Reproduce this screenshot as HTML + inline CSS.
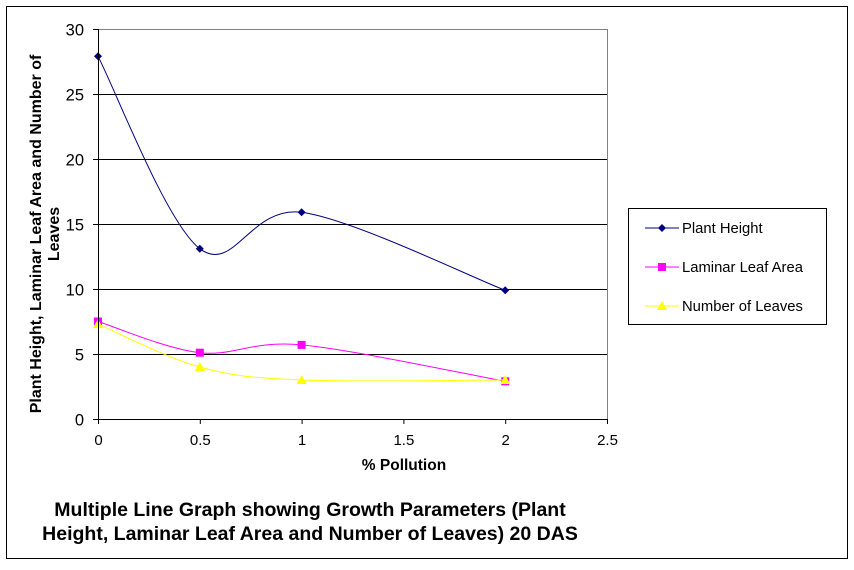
<!DOCTYPE html>
<html><head><meta charset="utf-8"><style>
body{margin:0;background:#fff;}
svg text{font-family:"Liberation Sans",Arial,sans-serif;}
</style></head><body>
<svg id="chart" width="854" height="565">
<rect x="6.5" y="6.5" width="841" height="552" fill="#fff" stroke="#000"/>
<g id="grid"></g><g id="series"></g><g id="axes"></g>
<text transform="translate(41,234) rotate(-90)" text-anchor="middle" font-size="16" font-weight="bold"><tspan x="0" y="0">Plant Height, Laminar Leaf Area and Number of</tspan><tspan x="0" y="18">Leaves</tspan></text>
<text x="404" y="470" text-anchor="middle" font-size="15.5" font-weight="bold">% Pollution</text>
<text x="310" y="516" text-anchor="middle" font-size="19.5" font-weight="bold"><tspan x="310" y="516">Multiple Line Graph showing Growth Parameters (Plant</tspan><tspan x="310" y="540">Height, Laminar Leaf Area and Number of Leaves) 20 DAS</tspan></text>
<g>
<rect x="628.5" y="208.5" width="198" height="116" fill="#fff" stroke="#000"/>
<line x1="645" y1="228" x2="679" y2="228" stroke="#000080"/><path d="M662 224L666 228L662 232L658 228Z" fill="#000080"/>
<text x="682" y="233" font-size="14.8">Plant Height</text>
<line x1="645" y1="267" x2="679" y2="267" stroke="#ff00ff"/><rect x="658" y="263" width="8" height="8" fill="#ff00ff"/>
<text x="682" y="272" font-size="14.8">Laminar Leaf Area</text>
<line x1="645" y1="306" x2="679" y2="306" stroke="#ffff00"/><path d="M662 301L667 310L657 310Z" fill="#ffff00"/>
<text x="682" y="311" font-size="14.8">Number of Leaves</text>
</g>
</svg>
<script>
const xValues=[0,0.5,1,2];
const plantHeight=[27.9,13.1,15.9,9.9];
const laminarLeafArea=[7.5,5.1,5.7,2.9];
const numberOfLeaves=[7.3,4.0,3.0,3.0];
const yTicks=[0,5,10,15,20,25,30];
const xTicks=[0,0.5,1,1.5,2,2.5];
const NS='http://www.w3.org/2000/svg';
const X0=98,X1=607,Y0=419,Y1=29;
const sx=v=>X0+(v/2.5)*(X1-X0), sy=v=>Y0-(v/30)*(Y0-Y1);
function mk(tag,attrs,parent){const e=document.createElementNS(NS,tag);for(const k in attrs)e.setAttribute(k,attrs[k]);document.getElementById(parent).appendChild(e);return e;}
yTicks.forEach(t=>{const y=sy(t)+0.5;
 if(t>0){const g=mk('line',{x1:X0,x2:X1,y1:y,y2:y,stroke:t==30?'#808080':'#000'},'grid');
 
 }
 mk('line',{x1:X0-5,x2:X0,y1:y,y2:y,stroke:'#000'},'axes');
 const l=mk('text',{x:84,y:y+6,'text-anchor':'end','font-size':'16.5'},'axes');l.textContent=t;
 
 });
mk('line',{x1:X1+0.5,x2:X1+0.5,y1:Y1,y2:Y0,stroke:'#808080'},'axes');
mk('line',{x1:X0+0.5,x2:X0+0.5,y1:Y1,y2:Y0,stroke:'#000'},'axes');
mk('line',{x1:X0,x2:X1,y1:Y0+0.5,y2:Y0+0.5,stroke:'#000'},'axes');
xTicks.forEach(t=>{const x=sx(t)+0.5;
 mk('line',{x1:x,x2:x,y1:Y0,y2:Y0+5,stroke:'#000'},'axes');
 const l=mk('text',{x:x,y:445,'text-anchor':'middle','font-size':'15'},'axes');l.textContent=t;
 
 });
function smooth(p){let d='M'+p[0][0]+' '+p[0][1];
 for(let i=0;i<p.length-1;i++){const a=p[i-1]||p[i],b=p[i],c=p[i+1],e=p[i+2]||c;
  d+=' C'+(b[0]+(c[0]-a[0])/6)+' '+(b[1]+(c[1]-a[1])/6)+' '+(c[0]-(e[0]-b[0])/6)+' '+(c[1]-(e[1]-b[1])/6)+' '+c[0]+' '+c[1];}
 return d;}
function series(vals,color,marker,name){
 const p=xValues.map((x,i)=>[sx(x),sy(vals[i])]);
 const path=mk('path',{d:smooth(p),fill:'none',stroke:color,'stroke-width':1},'series');
 
 
 p.forEach(([x,y])=>{let m;
  if(marker=='d')m=mk('path',{d:`M${x} ${y-4}L${x+4} ${y}L${x} ${y+4}L${x-4} ${y}Z`,fill:color},'series');
  else if(marker=='s')m=mk('rect',{x:x-4,y:y-4,width:8,height:8,fill:color},'series');
  else m=mk('path',{d:`M${x} ${y-5}L${x+5} ${y+4}L${x-5} ${y+4}Z`,fill:color},'series');
  
  });}
series(plantHeight,'#000080','d','plant-height');
series(laminarLeafArea,'#ff00ff','s','laminar-leaf-area');
series(numberOfLeaves,'#ffff00','t','number-of-leaves');
</script>
</body></html>
